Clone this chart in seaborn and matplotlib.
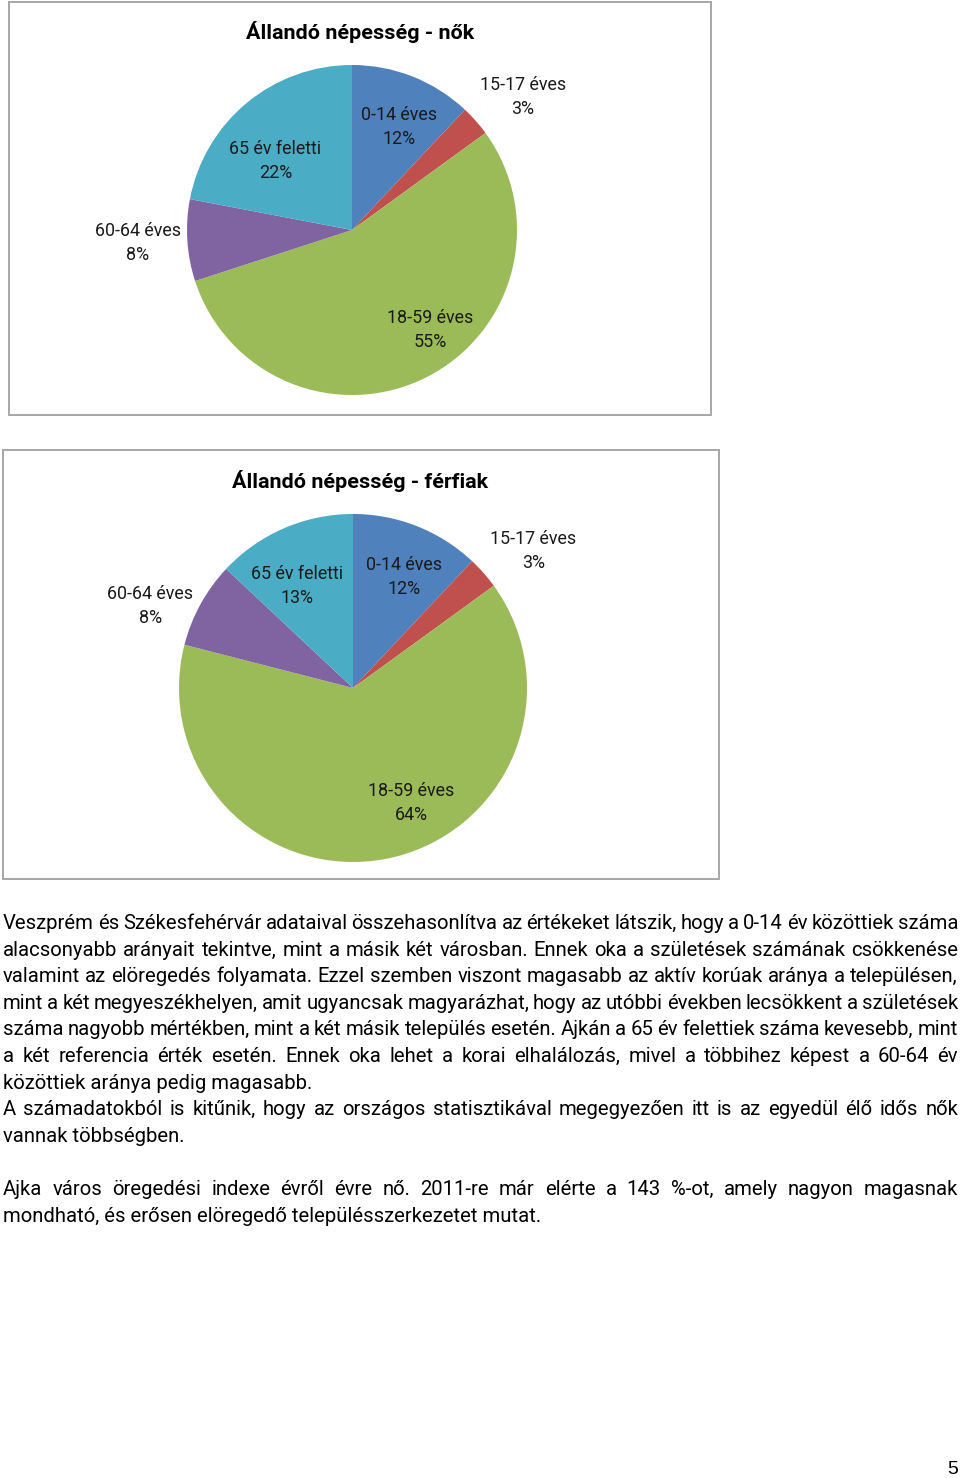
import numpy as np
import matplotlib
matplotlib.use("Agg")
import matplotlib.pyplot as plt
import seaborn as sns
from matplotlib import font_manager
from matplotlib.patches import Rectangle
from matplotlib.transforms import offset_copy

# ---------------- data ----------------
categories = ["0-14 éves", "15-17 éves", "18-59 éves", "60-64 éves", "65 év feletti"]
women_pct = [12, 3, 55, 8, 22]
men_pct = [12, 3, 64, 8, 13]
title_women = "Állandó népesség - nők"
title_men = "Állandó népesség - férfiak"
slice_colors = ["#4F81BD", "#C0504D", "#9BBB59", "#8064A2", "#4BACC6"]

paragraph_lines = [
    ("Veszprém és Székesfehérvár adataival összehasonlítva az értékeket látszik, hogy a 0-14 év közöttiek száma", True),
    ("alacsonyabb arányait tekintve, mint a másik két városban. Ennek oka a születések számának csökkenése", True),
    ("valamint az elöregedés folyamata. Ezzel szemben viszont magasabb az aktív korúak aránya a településen,", True),
    ("mint a két megyeszékhelyen, amit ugyancsak magyarázhat, hogy az utóbbi években lecsökkent a születések", True),
    ("száma nagyobb mértékben, mint a két másik település esetén. Ajkán a 65 év felettiek száma kevesebb, mint", True),
    ("a két referencia érték esetén. Ennek oka lehet a korai elhalálozás, mivel a többihez képest a 60-64 év", True),
    ("közöttiek aránya pedig magasabb.", False),
    ("A számadatokból is kitűnik, hogy az országos statisztikával megegyezően itt is az egyedül élő idős nők", True),
    ("vannak többségben.", False),
    ("", False),
    ("Ajka város öregedési indexe évről évre nő. 2011-re már elérte a 143 %-ot, amely nagyon magasnak", True),
    ("mondható, és erősen elöregedő településszerkezetet mutat.", False),
]
page_number = "5"

# ---------------- style ----------------
sns.set_style("white")


def pick_font(names):
    for n in names:
        try:
            font_manager.findfont(font_manager.FontProperties(family=n), fallback_to_default=False)
            return n
        except Exception:
            pass
    return "DejaVu Sans"


FONT = pick_font(["Roboto", "Open Sans", "Liberation Sans"])
plt.rcParams["font.family"] = FONT

W, H = 960, 1478
fig = plt.figure(figsize=(W / 100, H / 100), dpi=100)
fig.patch.set_facecolor("white")
renderer = fig.canvas.get_renderer()


def fx(x):
    return x / W


def fy(y):
    return 1 - y / H


def text_width(s, size, **kw):
    t = fig.text(0, 0, s, fontsize=size, **kw)
    w = t.get_window_extent(renderer).width
    t.remove()
    return w


def fit_size(s, target, **kw):
    return 20 * target / text_width(s, 20, **kw)


# ---------------- chart frames ----------------
frames = [(9, 2, 711, 415), (3, 450, 719, 879)]
for (x0, y0, x1, y1) in frames:
    fig.patches.append(Rectangle((fx(x0), fy(y1)), fx(x1) - fx(x0), fy(y0) - fy(y1),
                                 transform=fig.transFigure, facecolor="none",
                                 edgecolor="#a6a6a6", linewidth=1.4, zorder=-1))

# ---------------- pies ----------------
label_size = fit_size("18-59 éves", 86)
title_size = fit_size(title_women, 226, fontweight="bold")
LINE_HALF = 12  # half of the pixel distance between the two label lines

pies = [
    dict(values=women_pct, title=title_women, center=(352, 230), r=165, title_y=32,
         lab=[(0.70, -2.5), (1.32, -3.0), (0.76, 11.5), (1.30, -0.6), (0.635, 7.4)]),
    dict(values=men_pct, title=title_men, center=(353, 688), r=174, title_y=481,
         lab=[(0.71, -2.7), (1.31, -3.7), (0.73, 16.4), (1.26, 6.3), (0.68, 4.9)]),
]

for p in pies:
    cx, cy = p["center"]
    r = p["r"]
    ax = fig.add_axes([fx(cx - r), fy(cy + r), 2 * r / W, 2 * r / H])
    wedges, _ = ax.pie(p["values"], colors=slice_colors, startangle=90, counterclock=False,
                       radius=1, wedgeprops=dict(linewidth=0))
    ax.set_xlim(-1, 1)
    ax.set_ylim(-1, 1)
    ax.set_aspect("equal")
    ax.axis("off")
    up = offset_copy(ax.transData, fig=fig, y=LINE_HALF, units="dots")
    down = offset_copy(ax.transData, fig=fig, y=-LINE_HALF, units="dots")
    for w, cat, val, (rf, dth) in zip(wedges, categories, p["values"], p["lab"]):
        mid = np.deg2rad((w.theta1 + w.theta2) / 2 + dth)
        lx, ly = rf * np.cos(mid), rf * np.sin(mid)
        ax.text(lx, ly, cat, transform=up, ha="center", va="center_baseline",
                fontsize=label_size, color="#1a1a1a", clip_on=False)
        ax.text(lx, ly, f"{val}%", transform=down, ha="center", va="center_baseline",
                fontsize=label_size, color="#1a1a1a", clip_on=False)
    fig.text(fx(360), fy(p["title_y"]), p["title"], ha="center", va="center",
             fontsize=title_size, fontweight="bold", color="black")

# ---------------- body text ----------------
body_size = fit_size("mondható, és erősen elöregedő településszerkezetet mutat.", 535)
LEFT, RIGHT = 3, 958
base0, pitch = 929, 26.6
for i, (line, justify) in enumerate(paragraph_lines):
    if not line:
        continue
    yb = base0 + pitch * i
    if justify:
        words = line.split(" ")
        widths = [text_width(wd, body_size) for wd in words]
        gap = (RIGHT - LEFT - sum(widths)) / (len(words) - 1)
        x = LEFT
        for wd, wdw in zip(words, widths):
            fig.text(fx(x), fy(yb), wd, fontsize=body_size, ha="left", va="baseline", color="black")
            x += wdw + gap
    else:
        fig.text(fx(LEFT), fy(yb), line, fontsize=body_size, ha="left", va="baseline", color="black")

fig.text(fx(958), fy(1478), page_number, ha="right", va="bottom", fontsize=14,
         family="Liberation Sans", color="black")

fig.savefig("out.png", dpi=100, facecolor="white")
